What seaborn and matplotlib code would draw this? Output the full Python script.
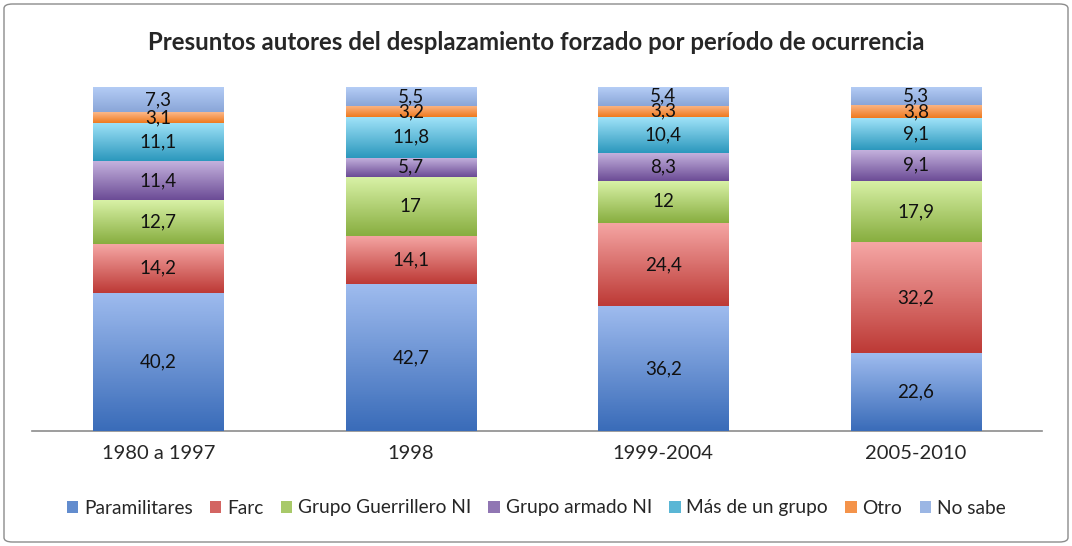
import numpy as np
import pandas as pd
import matplotlib.pyplot as plt
import seaborn as sns
from matplotlib.colors import LinearSegmentedColormap
from matplotlib.patches import FancyBboxPatch, Patch

# Data (percent per period)
periods = ["1980 a 1997", "1998", "1999-2004", "2005-2010"]
groups = ["Paramilitares", "Farc", "Grupo Guerrillero NI", "Grupo armado NI",
          "Más de un grupo", "Otro", "No sabe"]
paramilitares = [40.2, 42.7, 36.2, 22.6]
farc = [14.2, 14.1, 24.4, 32.2]
guerrillero_ni = [12.7, 17, 12, 17.9]
armado_ni = [11.4, 5.7, 8.3, 9.1]
mas_de_un_grupo = [11.1, 11.8, 10.4, 9.1]
otro = [3.1, 3.2, 3.3, 3.8]
no_sabe = [7.3, 5.5, 5.4, 5.3]

series = [paramilitares, farc, guerrillero_ni, armado_ni, mas_de_un_grupo, otro, no_sabe]

# (top colour, bottom colour) of the Excel-style gradient
gradients = [
    ("#9ebbee", "#3a6cb9"),
    ("#f5a6a4", "#bd3a36"),
    ("#d8f1a6", "#88ae40"),
    ("#c6b4df", "#6c4c96"),
    ("#9fe2f8", "#2c98bd"),
    ("#fbb88a", "#ef7a1f"),
    ("#b5cdf6", "#8aa6d8"),
]

sns.set_style("white")
plt.rcParams['font.family'] = ['Lato', 'DejaVu Sans']

fig = plt.figure(figsize=(10.72, 5.46), dpi=100)
ax = fig.add_axes([32 / 1072, 1 - 431 / 546, 1010 / 1072, 344 / 546])

rows = []
for g, vals in zip(groups, series):
    for p, v in zip(periods, vals):
        rows.append({"periodo": p, "grupo": g, "valor": v})
df = pd.DataFrame(rows)

bottom = np.zeros(len(periods))
for g, vals, (c_top, c_bot) in zip(groups, series, gradients):
    n_before = len(ax.patches)
    sub = df[df["grupo"] == g]
    ax.bar(sub["periodo"], sub["valor"], bottom=bottom, width=0.515,
           color=c_bot, edgecolor="none", zorder=2)
    cmap = LinearSegmentedColormap.from_list(g, [c_bot, c_top])
    grad = np.linspace(0, 1, 64).reshape(-1, 1)
    for patch, v in zip(ax.patches[n_before:], vals):
        x0, y0 = patch.get_x(), patch.get_y()
        w, h = patch.get_width(), patch.get_height()
        im = ax.imshow(grad, cmap=cmap, origin="lower", aspect="auto",
                       extent=[x0, x0 + w, y0, y0 + h], zorder=3)
        im.set_clip_path(patch)
        ax.text(x0 + w / 2, y0 + h / 2, f"{v:g}".replace(".", ","),
                ha="center", va="center", fontsize=13.5, color="#111111", zorder=5)
    bottom = bottom + np.array(vals)

ax.set_xlim(-0.5, 3.5)
ax.set_ylim(0, 100)
ax.set_yticks([])
ax.set_xlabel("")
ax.set_ylabel("")
ax.tick_params(axis="x", length=0, pad=10, labelsize=14.5)
for s in ["top", "left", "right"]:
    ax.spines[s].set_visible(False)
ax.spines["bottom"].set_color("#8c8c8c")
ax.spines["bottom"].set_linewidth(1.2)

fig.suptitle("Presuntos autores del desplazamiento forzado por período de ocurrencia",
             y=1 - 42 / 546, va="center", fontsize=17.3, fontweight="bold")


def mix(a, b):
    a = np.array(plt.matplotlib.colors.to_rgb(a))
    b = np.array(plt.matplotlib.colors.to_rgb(b))
    return tuple(0.4 * a + 0.6 * b)


handles = [Patch(facecolor=mix(c_top, c_bot), edgecolor="none") for c_top, c_bot in gradients]
fig.legend(handles, groups, loc="center", bbox_to_anchor=(0.5, 1 - 508 / 546),
           ncol=7, frameon=False, fontsize=13.8, handlelength=0.6, handleheight=0.6,
           handletextpad=0.3, columnspacing=0.9)

border = FancyBboxPatch((4 / 1072, 4 / 546), 1064 / 1072, 538 / 546,
                        boxstyle="round,pad=0,rounding_size=0.008",
                        transform=fig.transFigure, facecolor="none",
                        edgecolor="#8c8c8c", linewidth=1.0)
fig.patches.append(border)

fig.savefig("out.png", dpi=100)
